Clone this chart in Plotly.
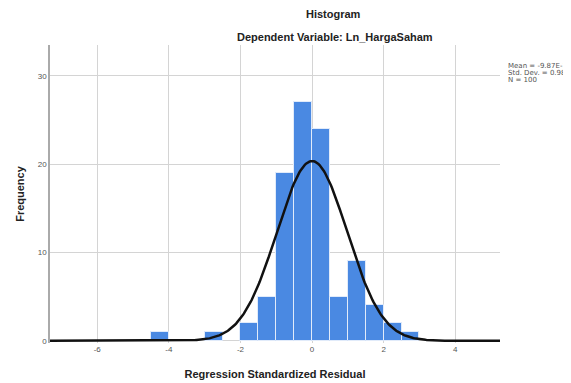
import numpy as np
import plotly.graph_objects as go

bin_left = [-4.5, -3.0, -2.0, -1.5, -1.0, -0.5, 0.0, 0.5, 1.0, 1.5, 2.0, 2.5]
counts = [1, 1, 2, 5, 19, 27, 24, 5, 9, 4, 2, 1]
bin_width = 0.5
mean_val = -9.87e-16
std_val = 0.980
n_val = 100
x_ticks = [-6, -4, -2, 0, 2, 4]
y_ticks = [0, 10, 20, 30]
stats_lines = ["Mean = -9.87E-16", "Std. Dev. = 0.980", "N = 100"]

centers = [b + bin_width / 2 for b in bin_left]
xr = [-7.32, 5.25]
xs = np.linspace(xr[0], xr[1], 400)
ys = n_val * bin_width / (std_val * np.sqrt(2 * np.pi)) * np.exp(-0.5 * ((xs - mean_val) / std_val) ** 2)

fig = go.Figure()
fig.add_trace(go.Bar(x=centers, y=counts, width=[bin_width] * len(counts),
                     marker=dict(color="rgb(74,137,226)", line=dict(color="rgb(225,235,250)", width=1)),
                     showlegend=False))
fig.add_trace(go.Scatter(x=xs, y=ys, mode="lines", line=dict(color="#111111", width=2.5), showlegend=False))

# page body has an 8px margin, so the figure is laid out in window coords minus 8
OFF = 8
W, H = 571 - OFF, 383 - OFF
L, T, R_EDGE, B_EDGE = 50 - OFF, 45 - OFF, 500 - OFF, 343 - OFF

font = "Liberation Sans, Arial, sans-serif"
annots = [
    dict(text="<b>Histogram</b>", x=333, y=14, showarrow=False, font=dict(size=11, color="#222222")),
    dict(text="<b>Dependent Variable: Ln_HargaSaham</b>", x=335, y=37, showarrow=False,
         font=dict(size=11, color="#222222")),
]
for i, s in enumerate(stats_lines):
    annots.append(dict(text=s, x=506, y=66 + 7 * i, showarrow=False, xanchor="left",
                       font=dict(size=7, color="#555555", family="DejaVu Sans, sans-serif")))

fig.update_layout(
    width=W, height=H,
    margin=dict(l=L, r=W - R_EDGE, t=T, b=H - B_EDGE),
    paper_bgcolor="white", plot_bgcolor="white",
    font=dict(family=font, color="#333333"),
    bargap=0,
    xaxis=dict(range=xr, tickvals=x_ticks, ticktext=[str(v) for v in x_ticks], automargin=False,
               showgrid=True, gridcolor="#d4d4d4", gridwidth=1, zeroline=False,
               showline=False, ticks="", tickfont=dict(size=8, color="#555555"),
               title=dict(text="<b>Regression Standardized Residual</b>", font=dict(size=11, color="#222222"), standoff=17)),
    yaxis=dict(range=[-0.25, 33.5], tickvals=y_ticks, ticktext=[str(v) for v in y_ticks], automargin=False,
               showgrid=True, gridcolor="#d4d4d4", gridwidth=1, zeroline=False,
               showline=True, linecolor="#aaaaaa", linewidth=1.5, ticks="",
               tickfont=dict(size=8, color="#555555"),
               title=dict(text="<b>Frequency</b>", font=dict(size=11, color="#222222"), standoff=11)),
)

pw = R_EDGE - L
ph = B_EDGE - T
for a in annots:
    a["xref"] = "paper"
    a["yref"] = "paper"
    a["x"] = (a["x"] - OFF - L) / pw
    a["y"] = 1 - (a["y"] - OFF - T) / ph
    a["yanchor"] = "middle"
fig.update_layout(annotations=annots)

fig.write_html("out.html")
